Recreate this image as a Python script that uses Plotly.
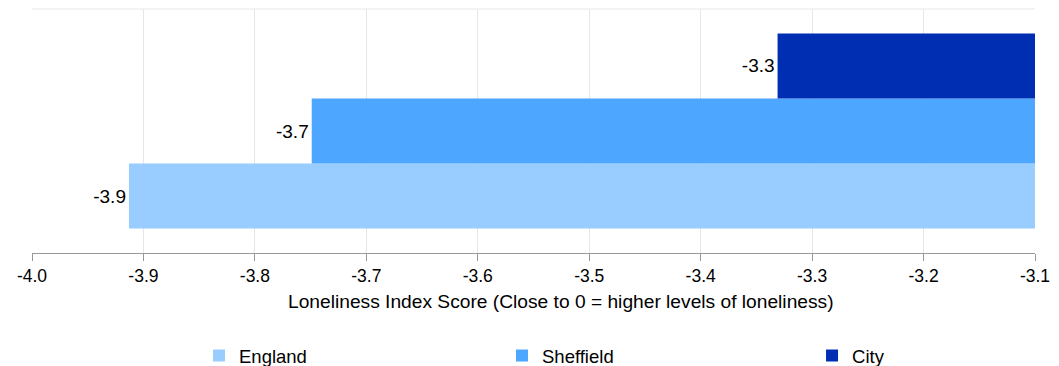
import plotly.graph_objects as go

series_names = ["England", "Sheffield", "City"]
series_values = [-3.913, -3.749, -3.331]
series_colors = ["#99ccff", "#4da6ff", "#002eb3"]
category = ["Loneliness"]
tick_vals = [-4.0, -3.9, -3.8, -3.7, -3.6, -3.5, -3.4, -3.3, -3.2, -3.1]
tick_text = ["-4.0", "-3.9", "-3.8", "-3.7", "-3.6", "-3.5", "-3.4", "-3.3", "-3.2", "-3.1"]
x_title = "Loneliness Index Score (Close to 0 = higher levels of loneliness)"

FONT = "Liberation Sans, Arial, Helvetica, sans-serif"
legend_ids = ["legend", "legend2", "legend3"]
legend_x = [0.1665, 0.4686, 0.7777]

fig = go.Figure()
for name, val, col, lid in zip(series_names, series_values, series_colors, legend_ids):
    fig.add_trace(go.Bar(
        name=name, y=category, x=[val], orientation="h",
        marker=dict(color=col, line=dict(width=0)),
        text=[val], texttemplate="%{x:.1f}", textposition="outside",
        textfont=dict(family=FONT, size=19, color="#000000"),
        cliponaxis=False, legend=lid,
    ))

legend_common = dict(yref="container", y=0.028, yanchor="middle", xanchor="left",
                     font=dict(family=FONT, size=18.5, color="#000000"),
                     bgcolor="rgba(0,0,0,0)")

fig.update_layout(
    width=1051, height=358,
    margin=dict(l=24, r=24, t=1, b=113),
    paper_bgcolor="white", plot_bgcolor="white",
    barmode="group", bargap=0.2, bargroupgap=0,
    font=dict(family=FONT, size=17, color="#000000"),
    showlegend=True,
    legend=dict(x=legend_x[0], **legend_common),
    legend2=dict(x=legend_x[1], **legend_common),
    legend3=dict(x=legend_x[2], **legend_common),
    xaxis=dict(range=[-4.0, -3.1], tickmode="array", tickvals=tick_vals, ticktext=tick_text,
               showgrid=True, gridcolor="#e6e6e6", gridwidth=1,
               showline=True, linecolor="#999999", linewidth=1,
               ticks="outside", ticklen=7, tickcolor="#999999",
               zeroline=False, automargin=False,
               tickfont=dict(family=FONT, size=17.5, color="#000000")),
    yaxis=dict(showticklabels=False, showgrid=False, zeroline=False, showline=False, automargin=False),
    shapes=[dict(type="line", xref="paper", yref="paper", x0=0, x1=1, y0=1, y1=1,
                 line=dict(color="#e6e6e6", width=1))],
    annotations=[dict(text=x_title, xref="paper", yref="paper", x=0.527, y=-0.2008,
                      xanchor="center", yanchor="middle", showarrow=False,
                      font=dict(family=FONT, size=19.2, color="#000000"))],
)

fig.write_html("out.html")
